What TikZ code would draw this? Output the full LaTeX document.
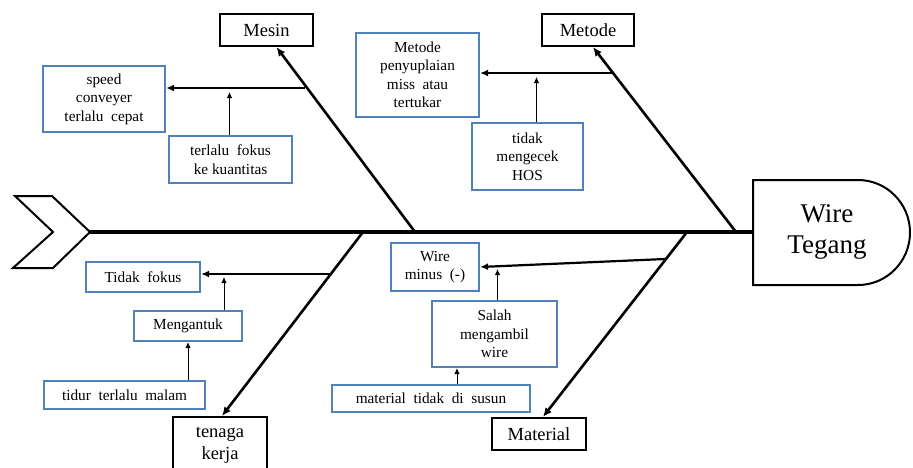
\documentclass[tikz,border=0pt]{standalone}
\usepackage{fontspec}
\setmainfont{Liberation Serif}
\usetikzlibrary{arrows.meta}
\definecolor{boxblue}{RGB}{79,129,189}
\tikzstyle{catbox} = [draw=black, line width=2.2pt, rectangle, inner sep=0pt, font=\fontsize{18.5}{22}\selectfont, align=center]
\tikzstyle{causebox} = [draw=boxblue, line width=2.2pt, rectangle, inner sep=0pt, font=\fontsize{15.3}{18.5}\selectfont, align=center]
\tikzstyle{bone} = [line width=2.6pt, -{Latex[length=9pt,width=8pt]}]
\tikzstyle{subarrow} = [line width=2.2pt, -{Latex[length=8pt,width=7pt]}]
\tikzstyle{thinarrow} = [line width=0.9pt, -{Latex[length=6pt,width=5.5pt]}]

\begin{document}
\begin{tikzpicture}[x=1pt,y=-1pt]
\useasboundingbox (0,0) rectangle (913,467);

% tail and head of the fish
\draw[line width=2pt, line join=miter] (15,196) -- (52,196) -- (90,232) -- (53,268) -- (13,268) -- (53,232) -- cycle;
\coordinate (tail) at (90,232);
\draw[line width=2pt] (753,180) -- (858,180) arc[start angle=90, end angle=-90, x radius=52pt, y radius=52.5pt] -- (753,285) -- cycle;
\coordinate (headw) at (753,232);
\node[font=\fontsize{27}{31}\selectfont, align=center] (head) at (827,232) {Wire\\Tegang};
\draw[line width=3.8pt] (tail) -- (headw);

% main categories
\node[catbox, minimum width=93, minimum height=32] (mesin) at (266.5,30) {Mesin};
\node[catbox, minimum width=92, minimum height=32] (metode) at (588,30) {Metode};
\node[catbox, minimum width=94, minimum height=56, anchor=north] (tenaga) at (220,416) {tenaga\\kerja};
\node[catbox, minimum width=94, minimum height=32] (material) at (539,434) {Material};

\coordinate (bmesin) at (415,232);
\coordinate (bmetode) at (736,232);
\coordinate (btenaga) at (363,232);
\coordinate (bmaterial) at (687,232);
\draw[bone] (bmesin) -- ([xshift=10]mesin.south);
\draw[bone] (bmetode) -- ([xshift=5]metode.south);
\draw[bone] (btenaga) -- ([xshift=2]tenaga.north);
\draw[bone] (bmaterial) -- ([xshift=4]material.north);

% causes
\node[causebox, minimum width=122, minimum height=66] (speed) at (104,99) {speed\\conveyer\\terlalu\ \ cepat};
\node[causebox, minimum width=123, minimum height=47] (kuantitas) at (230.5,159.5) {terlalu\ \ fokus\\ke kuantitas};
\node[causebox, minimum width=123, minimum height=84] (suplai) at (417.5,75) {Metode\\penyuplaian\\miss\ \ atau\\tertukar};
\node[causebox, minimum width=111, minimum height=67] (hos) at (527.5,156.5) {tidak\\mengecek\\HOS};
\node[causebox, minimum width=114, minimum height=30] (tidakfokus) at (143,277) {Tidak\ \ fokus};
\node[causebox, minimum width=108, minimum height=30] (mengantuk) at (188,326) {Mengantuk};
\node[causebox, minimum width=161, minimum height=28] (tidur) at (124.5,395) {tidur\ \ terlalu\ \ malam};
\node[causebox, minimum width=88, minimum height=48] (wireminus) at (435,267) {Wire\\minus\ \ (-)};
\node[causebox, minimum width=125, minimum height=66] (salah) at (494.5,334) {Salah\\mengambil\\wire};
\node[causebox, minimum width=198, minimum height=27] (susun) at (431,398.5) {material\ \ tidak\ \ di\ \ susun};

% branches off the bones
\coordinate (smesin) at (305,88);
\coordinate (smetode) at (613,73);
\coordinate (stenaga) at (330,274);
\coordinate (smaterial) at (665,259);
\draw[subarrow] (smesin) -- (speed.east |- smesin);
\draw[subarrow] (smetode) -- (suplai.east |- smetode);
\draw[subarrow] (stenaga) -- (tidakfokus.east |- stenaga);
\draw[subarrow] (smaterial) -- (wireminus.east);

\draw[thinarrow] ([xshift=-1]kuantitas.north) -- ([xshift=-1,yshift=-4]kuantitas.north |- smesin);
\draw[thinarrow] ([xshift=9]hos.north) -- ([xshift=9,yshift=-4]hos.north |- smetode);
\draw[thinarrow] ([xshift=36]mengantuk.north) -- ([xshift=36,yshift=-3]mengantuk.north |- stenaga);
\draw[thinarrow] (tidur.north -| mengantuk.south) -- (mengantuk.south);
\draw[thinarrow] ([xshift=3]salah.north) -- ([xshift=3,yshift=-2]salah.north |- wireminus.east);
\draw[thinarrow] (susun.north -| 457,0) -- (salah.south -| 457,0);
\end{tikzpicture}
\end{document}
